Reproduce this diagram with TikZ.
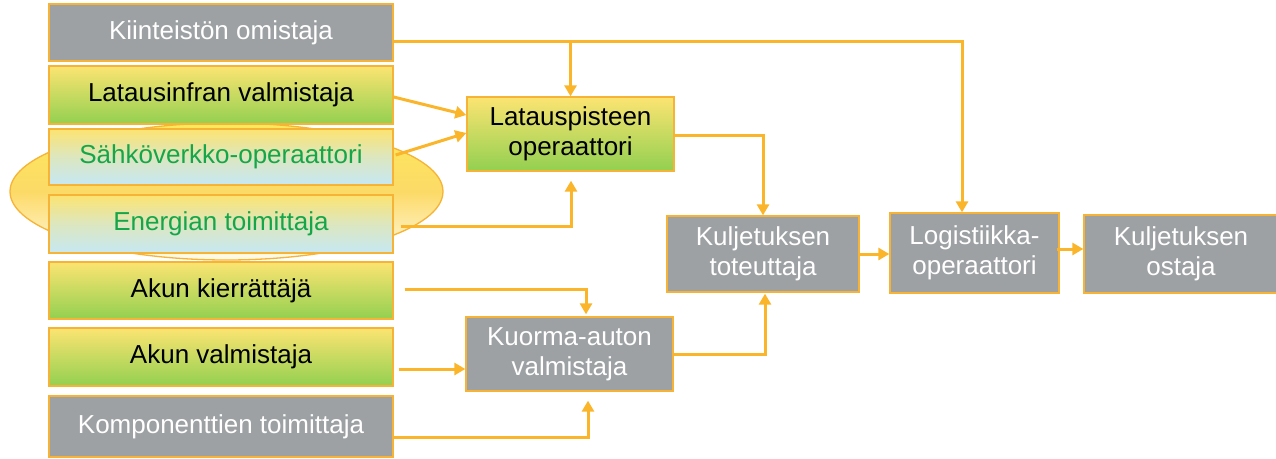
\documentclass[tikz,border=0pt]{standalone}
\usepackage{fontspec}
\setmainfont{Liberation Sans}
\usetikzlibrary{arrows.meta,calc,shapes.geometric}
\definecolor{gry}{HTML}{9EA1A4}
\definecolor{brd}{HTML}{F6B335}
\definecolor{ln}{HTML}{FBB52B}
\definecolor{ylw}{HTML}{FCE472}
\definecolor{grn}{HTML}{92D050}
\definecolor{lblu}{HTML}{C6E8F3}
\definecolor{gtxt}{HTML}{16A64A}
\begin{document}
\begin{tikzpicture}[x=1pt,y=-1pt,
  box/.style={draw=brd,line width=1.3pt,inner sep=0pt,align=center,
    font=\fontsize{26}{30}\selectfont},
  greybox/.style={box,fill=gry,text=white},
  yg/.style={box,top color=ylw,bottom color=grn,text=black},
  yb/.style={box,top color=ylw,bottom color=lblu,middle color=lblu!60!ylw,text=gtxt},
  arr/.style={draw=ln,line width=3pt,-{Triangle[length=11pt,width=12pt]}},
  ln/.style={draw=ln,line width=3pt}]
\useasboundingbox (0,0) rectangle (1276,458);
% ellipse
\node[ellipse,draw=brd,line width=1.3pt,top color=ylw!80!yellow,bottom color=ylw!15!white,
  middle color=ylw!90!orange,minimum width=433,minimum height=137,inner sep=0pt] (ell) at (226.5,191.5) {};
% left column
\node[greybox,minimum width=344,minimum height=57] (kio) at (221,32.5) {Kiinteistön omistaja};
\node[yg,minimum width=344,minimum height=58] (lvm) at (221,95) {Latausinfran valmistaja};
\node[yb,minimum width=344,minimum height=56] (sah) at (221,157) {Sähköverkko-operaattori};
\node[yb,minimum width=344,minimum height=58] (ene) at (221,224) {Energian toimittaja};
\node[yg,minimum width=344,minimum height=57] (akk) at (221,290.5) {Akun kierrättäjä};
\node[yg,minimum width=344,minimum height=58] (akv) at (221,357) {Akun valmistaja};
\node[greybox,minimum width=344,minimum height=61] (kom) at (221,426.5) {Komponenttien toimittaja};
% middle
\node[yg,minimum width=207,minimum height=74] (lpo) at (570.5,134) {Latauspisteen\\operaattori};
\node[greybox,minimum width=207,minimum height=74] (kav) at (569.5,354) {Kuorma-auton\\valmistaja};
\node[greybox,minimum width=192,minimum height=76] (kto) at (763,254) {Kuljetuksen\\toteuttaja};
\node[greybox,minimum width=169,minimum height=80] (log) at (974.5,253) {Logistiikka-\\operaattori};
\node[greybox,minimum width=194,minimum height=78] (kos) at (1181,254) {Kuljetuksen\\ostaja};
% connectors
\coordinate (j) at ($(kio.east)+(0,8.5)$);
\draw[arr] (j) -| ($(log.north)+(-12.5,0)$);
\draw[arr] (j -| lpo.north) -- (lpo.north);
\draw[arr] ($(lvm.east)+(0,2)$) -- ($(lpo.west)+(0,-19)$);
\draw[arr] ($(sah.east)+(2,-2)$) -- ($(lpo.west)+(0,-1)$);
\draw[arr] ($(ene.east)+(7,2)$) -| ($(lpo.south)+(0.5,9)$);
\draw[arr] ($(lpo.east)+(0,1)$) -| (kto.north);
\draw[arr] ($(akk.east)+(11,-1.5)$) -| ($(kav.north)+(16.5,-2)$);
\draw[arr] ($(akv.east)+(5,12)$) -- ($(kav.west)+(0,15)$);
\draw[arr] ($(kom.east)+(0,10.5)$) -| ($(kav.south)+(18.5,9)$);
\draw[arr] (kav.east) -| ($(kto.south)+(2,1)$);
\draw[arr] (kto.east) -- (kto.east -| log.west);
\coordinate (s11) at ($(log.east)+(-3,-4)$);
\draw[arr] (s11) -- (s11 -| kos.west);
\end{tikzpicture}
\end{document}
